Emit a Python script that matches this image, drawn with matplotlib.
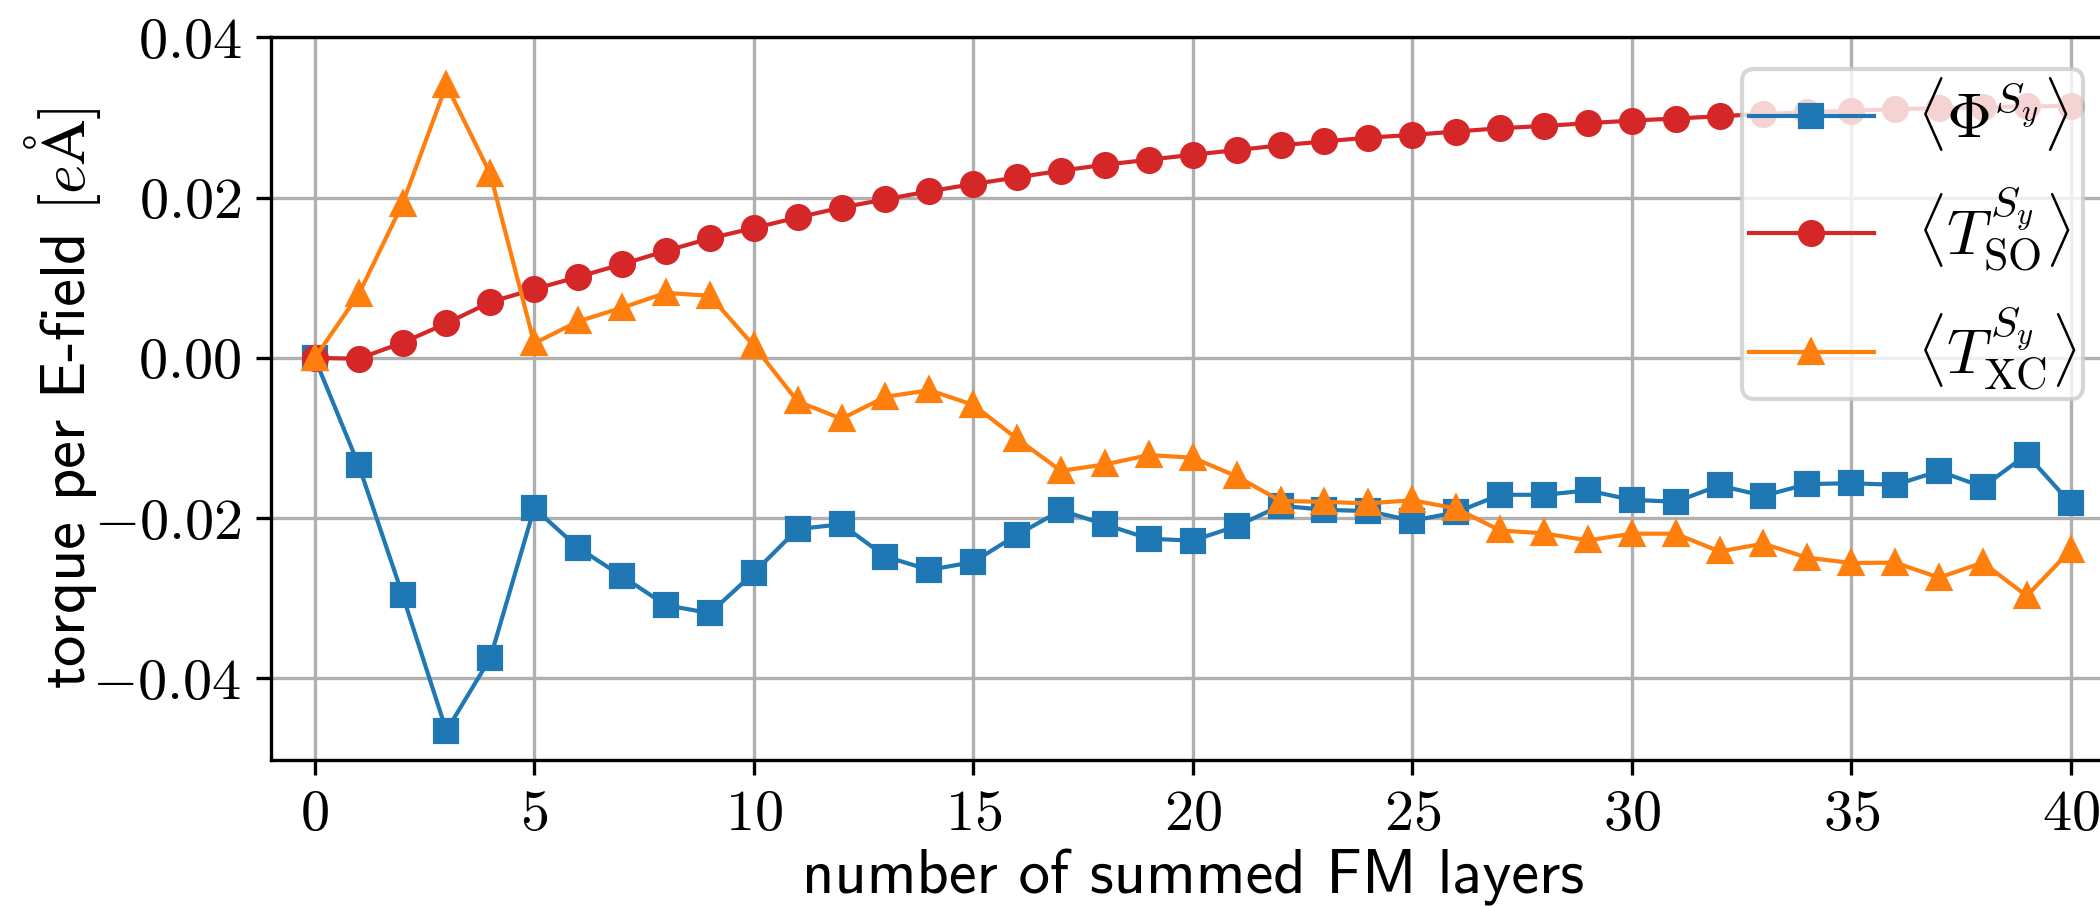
import matplotlib
matplotlib.use("Agg")
import matplotlib.pyplot as plt
from matplotlib.ticker import FuncFormatter, MultipleLocator

# ---- data ----
layers = list(range(41))

phi = [0.0, -0.01336, -0.02958, -0.04656, -0.03747, -0.01876, -0.02369, -0.02726,
       -0.03087, -0.03187, -0.02685, -0.02137, -0.02077, -0.02480, -0.02647, -0.02548,
       -0.02208, -0.01904, -0.02079, -0.02257, -0.02282, -0.02100, -0.01846, -0.01896,
       -0.01913, -0.02033, -0.01929, -0.01709, -0.01709, -0.01655, -0.01772, -0.01796,
       -0.01593, -0.01722, -0.01576, -0.01564, -0.01585, -0.01414, -0.01610, -0.01207,
       -0.01817]

t_so = [0.0, -0.0001, 0.0019, 0.00431, 0.00696, 0.00858, 0.01011, 0.01169,
        0.01335, 0.01492, 0.01621, 0.01753, 0.01877, 0.01980, 0.02080, 0.02170,
        0.02254, 0.02337, 0.02412, 0.02474, 0.02536, 0.02595, 0.02653, 0.02703,
        0.02750, 0.02784, 0.02826, 0.02867, 0.02896, 0.02930, 0.02963, 0.02988,
        0.03017, 0.03046, 0.03066, 0.03087, 0.03104, 0.03120, 0.03129, 0.03141,
        0.03145]

t_xc = [0.0, 0.00792, 0.01923, 0.03410, 0.02296, 0.00182, 0.00456, 0.00626,
        0.00812, 0.00775, 0.00153, -0.00543, -0.00760, -0.00486, -0.00403, -0.00586,
        -0.01010, -0.01410, -0.01330, -0.01213, -0.01246, -0.01478, -0.01786, -0.01798,
        -0.01816, -0.01777, -0.01880, -0.02154, -0.02191, -0.02278, -0.02195, -0.02195,
        -0.02416, -0.02320, -0.02494, -0.02560, -0.02556, -0.02743, -0.02556, -0.02971,
        -0.02400]

labels = [r"$\langle\Phi^{S_y}\rangle$",
          r"$\langle T^{S_y}_{\mathrm{SO}}\rangle$",
          r"$\langle T^{S_y}_{\mathrm{XC}}\rangle$"]
xlabel = "number of summed FM layers"
ylabel = r"torque per E-field $[e\mathrm{\AA}]$"

plt.rcParams["mathtext.fontset"] = "cm"
plt.rcParams["font.family"] = ["cmss10", "DejaVu Sans"]
plt.rcParams["axes.unicode_minus"] = True

W, H = 2100, 906
fig = plt.figure(figsize=(7.0, 3.02), dpi=300)
ax_l, ax_r, ax_t, ax_b = 270.8, 2114.6, 37.5, 760.0
ax = fig.add_axes([ax_l / W, 1 - ax_b / H, (ax_r - ax_l) / W, (ax_b - ax_t) / H])

kw = dict(linewidth=1.0, markersize=5.5, zorder=3)
ax.plot(layers, phi, marker="s", color="#1f77b4", label=labels[0], **kw)
ax.plot(layers, t_so, marker="o", color="#d62728", label=labels[1], **kw)
ax.plot(layers, t_xc, marker="^", color="#ff7f0e", label=labels[2], **kw)

ax.set_xlim(-1, 41)
ax.set_ylim(-0.0502, 0.04)
ax.xaxis.set_major_locator(MultipleLocator(5))
ax.yaxis.set_major_locator(MultipleLocator(0.02))
ax.xaxis.set_major_formatter(FuncFormatter(lambda v, p: r"$%d$" % round(v)))
ax.yaxis.set_major_formatter(FuncFormatter(lambda v, p: r"$%.2f$" % (0.0 if abs(v) < 1e-9 else v)))
ax.tick_params(labelsize=14)
ax.grid(True, color="#b0b0b0", linewidth=0.8)
ax.set_axisbelow(True)

ax.set_xlabel(xlabel, fontsize=15, labelpad=2)
ax.set_ylabel(ylabel, fontsize=15)
ax.yaxis.set_label_coords((103 - ax_l) / (ax_r - ax_l), 0.5)

ax.legend(loc="upper right", fontsize=15, handlelength=2.0,
          borderpad=0.1, labelspacing=0.5, handletextpad=0.7)

fig.savefig("out.png", dpi=300)
